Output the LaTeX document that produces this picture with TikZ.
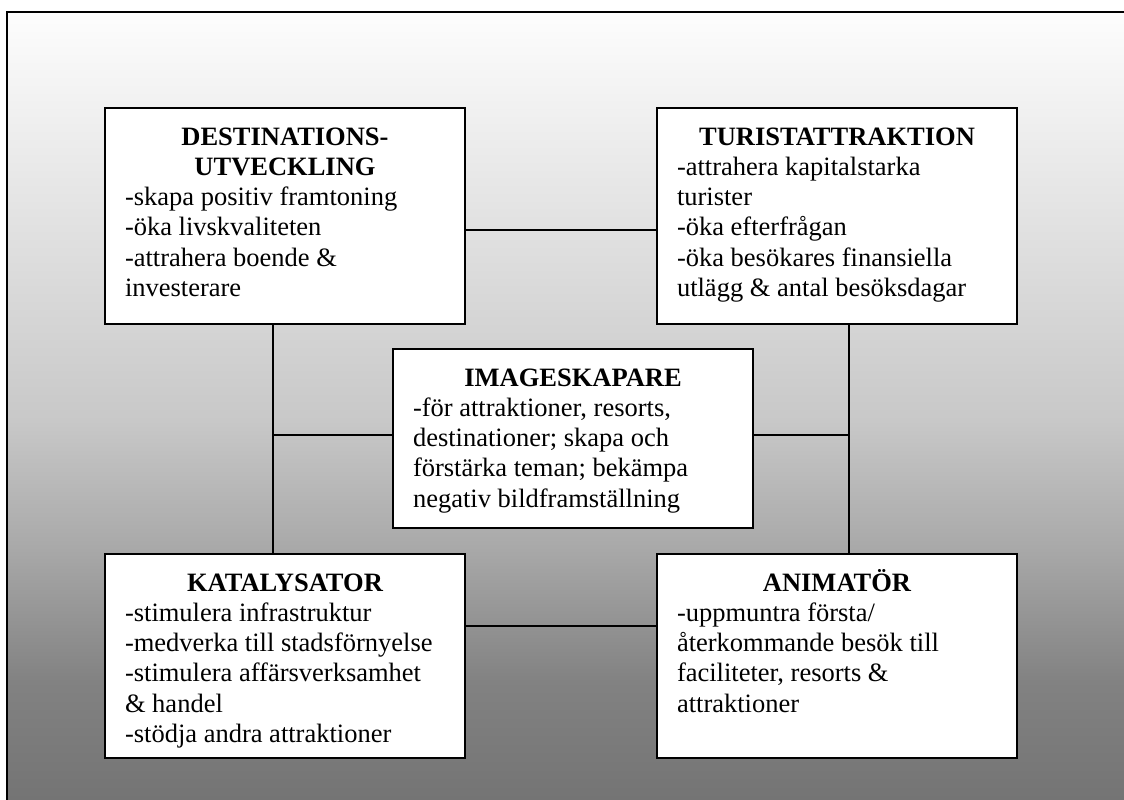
\documentclass[tikz,border=0pt]{standalone}
\usepackage{fontspec}
\setmainfont{Liberation Serif}
\definecolor{shadeA}{RGB}{253,253,253}
\definecolor{shadeB}{RGB}{200,200,200}
\definecolor{shadeC}{RGB}{168,168,168}
\definecolor{shadeD}{RGB}{130,130,130}
\definecolor{shadeE}{RGB}{116,116,116}
% box contents: fixed height, first baseline at a fixed depth,
% bold centred heading, left-aligned lines below
\newcommand{\cardtext}[3]{\parbox[c][#1pt][t]{320pt}{\vspace*{6.7pt}\hbox{}{\centering\bfseries #2\par}\raggedright #3\par}}
\begin{document}
\begin{tikzpicture}[x=1pt,y=-1pt,
  card/.style={draw=black, line width=2pt, fill=white, anchor=north west,
    inner xsep=20pt, inner ysep=0pt, font=\fontsize{26.5pt}{30.3pt}\selectfont},
  link/.style={draw=black, line width=2pt}]
\useasboundingbox (0,0) rectangle (1124,800);
\begin{scope}
  \clip (0,0) rectangle (1124,800);
  \fill[white] (0,0) rectangle (1124,800);
  % grey background ramp, lighter at the top
  \shade[top color=shadeA, bottom color=shadeB] (7,12) rectangle (1124,421);
  \shade[top color=shadeB, bottom color=shadeC] (7,420) rectangle (1124,551);
  \shade[top color=shadeC, bottom color=shadeD] (7,550) rectangle (1124,681);
  \shade[top color=shadeD, bottom color=shadeE] (7,680) rectangle (1124,800);
  \draw[line width=2pt] (7,12) rectangle (1140,820);
\end{scope}

\node[card] (dest) at (104,107) {\cardtext{216}{DESTINATIONS-\\UTVECKLING}{-skapa positiv framtoning\\-öka livskvaliteten\\-attrahera boende \&\\investerare}};
\node[card] (turist) at (656,107) {\cardtext{216}{TURISTATTRAKTION}{-attrahera kapitalstarka\\turister\\-öka efterfrågan\\-öka besökares finansiella\\utlägg \& antal besöksdagar}};
\node[card] (image) at (392,348) {\cardtext{179}{IMAGESKAPARE}{-för attraktioner, resorts,\\destinationer; skapa och\\förstärka teman; bekämpa\\negativ bildframställning}};
\node[card] (kat) at (104,553) {\cardtext{204}{KATALYSATOR}{-stimulera infrastruktur\\-medverka till stadsförnyelse\\-stimulera affärsverksamhet\\\& handel\\-stödja andra attraktioner}};
\node[card] (anim) at (656,553) {\cardtext{204}{ANIMATÖR}{-uppmuntra första/\\återkommande besök till\\faciliteter, resorts \&\\attraktioner}};

\coordinate (lv) at ([xshift=-12pt]dest.south);
\coordinate (rv) at ([xshift=12pt]turist.south);

\draw[link] ([yshift=-14pt]dest.east) -- ([yshift=-14pt]turist.west);
\draw[link] (lv) -- (lv |- kat.north);
\draw[link] (rv) -- (rv |- anim.north);
\draw[link] ([yshift=3.5pt]image.west) -- ([yshift=3.5pt]image.west -| lv);
\draw[link] ([yshift=3.5pt]image.east) -- ([yshift=3.5pt]image.east -| rv);
\draw[link] ([yshift=30pt]kat.east) -- ([yshift=30pt]anim.west);
\end{tikzpicture}
\end{document}
